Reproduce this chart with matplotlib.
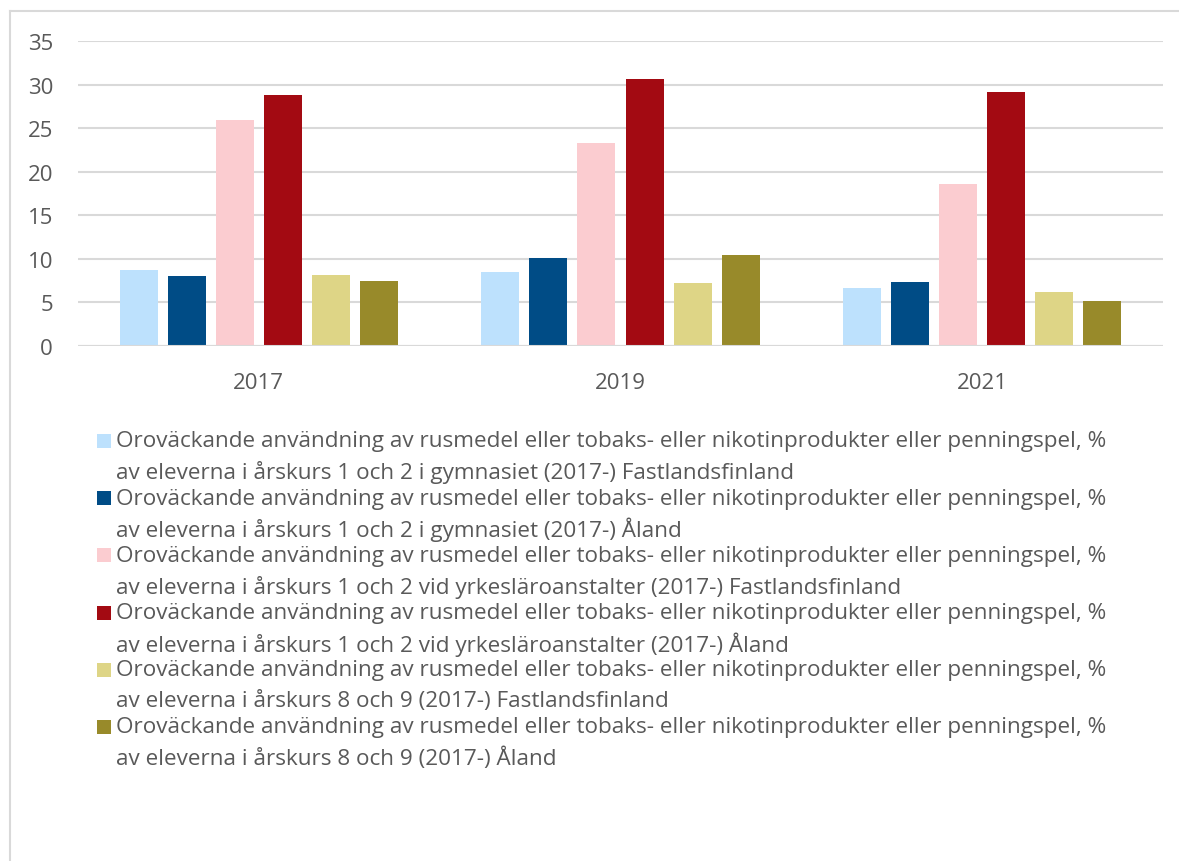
import numpy as np
import matplotlib.pyplot as plt
from matplotlib.patches import Rectangle
from matplotlib.lines import Line2D

plt.rcParams['font.family'] = ['Open Sans', 'DejaVu Sans']

years = ['2017', '2019', '2021']
prefix = ('Oroväckande användning av rusmedel eller tobaks- eller '
          'nikotinprodukter eller penningspel, %')
groups = [
    'av eleverna i årskurs 1 och 2 i gymnasiet (2017-) Fastlandsfinland',
    'av eleverna i årskurs 1 och 2 i gymnasiet (2017-) Åland',
    'av eleverna i årskurs 1 och 2 vid yrkesläroanstalter (2017-) Fastlandsfinland',
    'av eleverna i årskurs 1 och 2 vid yrkesläroanstalter (2017-) Åland',
    'av eleverna i årskurs 8 och 9 (2017-) Fastlandsfinland',
    'av eleverna i årskurs 8 och 9 (2017-) Åland',
]
gym_fastland = [8.7, 8.5, 6.6]
gym_aland = [8.0, 10.1, 7.3]
yrke_fastland = [25.9, 23.3, 18.6]
yrke_aland = [28.8, 30.6, 29.1]
ak89_fastland = [8.2, 7.2, 6.2]
ak89_aland = [7.5, 10.4, 5.2]
series = [gym_fastland, gym_aland, yrke_fastland, yrke_aland,
          ak89_fastland, ak89_aland]
colors = ['#BDE1FD', '#004C86', '#FBCCD0', '#A30A12', '#DED586', '#988A2A']

W, H = 1179, 862
fig = plt.figure(figsize=(W / 100, H / 100), dpi=100)
ax = fig.add_axes([78 / W, 1 - 347 / H, (1163 - 78) / W, (347 - 42) / H])

x = np.arange(len(years))
pitch = 0.133
width = 0.105
for i, (vals, c) in enumerate(zip(series, colors)):
    ax.bar(x + (i - 2.5) * pitch, vals, width, color=c, zorder=3)

ax.set_xlim(-0.5, 2.5)
ax.set_ylim(0, 35)
ax.set_yticks(range(0, 36, 5))
ax.set_xticks(x, years)
ax.grid(axis='y', color='#D9D9D9', linewidth=1.5, zorder=0)
for s in ax.spines.values():
    s.set_visible(False)
ax.axhline(0, color='#D9D9D9', linewidth=1.5, zorder=4)
ax.tick_params(length=0, labelsize=16, labelcolor='#595959')
ax.tick_params(axis='y', pad=18)
ax.tick_params(axis='x', pad=19)

# outer chart frame: top and left edges only
fig.add_artist(Line2D([10 / W, 10 / W], [0, 1 - 12 / H], color='#D9D9D9',
                      linewidth=1.5))
fig.add_artist(Line2D([10 / W, 1], [1 - 12 / H, 1 - 12 / H], color='#D9D9D9',
                      linewidth=1.5))

# legend drawn row by row, first line aligned with the colour square
row0 = 442
step = 57.2
for i, (g, c) in enumerate(zip(groups, colors)):
    yc = row0 + i * step
    fig.add_artist(Rectangle((97 / W, 1 - (yc + 7) / H), 14 / W, 14 / H,
                             facecolor=c, edgecolor='none'))
    fig.text(116 / W, 1 - yc / H, prefix, fontsize=16.2, color='#595959',
             va='center', ha='left')
    fig.text(116 / W, 1 - (yc + 31) / H, g, fontsize=16.2, color='#595959',
             va='center', ha='left')

fig.savefig('out.png', dpi=100)
